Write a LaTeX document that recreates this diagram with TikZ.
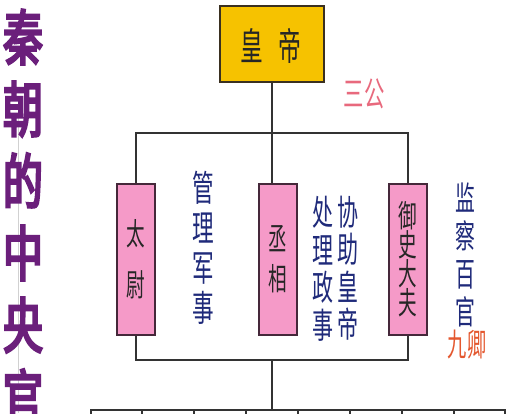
\documentclass[tikz,border=0pt]{standalone}
\usepackage{fontspec}
\newfontfamily\cjk[FakeStretch=0.6]{Noto Sans CJK SC}
\newfontfamily\cjkt[FakeStretch=0.66,FakeBold=4]{Noto Sans CJK SC}
\definecolor{linec}{HTML}{333333}
\definecolor{goldf}{HTML}{F6C200}
\definecolor{goldb}{HTML}{3A3020}
\definecolor{pinkf}{HTML}{F59AC8}
\definecolor{pinkb}{HTML}{45283A}
\definecolor{titlec}{HTML}{6B1F7B}
\definecolor{bluec}{HTML}{1F2A7A}
\definecolor{sanc}{HTML}{E8697D}
\definecolor{jiuc}{HTML}{E4572E}
\begin{document}
\begin{tikzpicture}[x=1pt,y=-1pt,
  conn/.style={draw=linec, line width=1.3pt},
  empbox/.style={draw=goldb, fill=goldf, line width=1.4pt, minimum width=104pt, minimum height=76pt, inner sep=0pt},
  pinkbox/.style={draw=pinkb, fill=pinkf, line width=1.3pt, minimum width=38pt, minimum height=151pt, inner sep=0pt, align=center, text=black!85},
  rowbox/.style={draw=linec, fill=white, line width=1.3pt, minimum height=40pt, inner sep=0pt},
  bluetxt/.style={text=bluec, align=center, inner sep=0pt},
]
\useasboundingbox (0,0) rectangle (512,413);
\clip (0,0) rectangle (512,413);
\fill[white] (0,0) rectangle (512,413);

% faint guide line behind title
\draw[black!18, line width=0.5pt] (18,100) -- (18,413);

% title
\node[text=titlec, align=center, inner sep=0pt, font=\cjkt\fontsize{60}{72}\selectfont] (title) at (23,217) {秦\\朝\\的\\中\\央\\官};

% emperor
\node[empbox] (emp) at (272,44) {};
\node[inner sep=0pt, font=\cjk\fontsize{38}{40}\selectfont, text=black!85] (huang) at (252,46) {皇};
\node[inner sep=0pt, font=\cjk\fontsize{38}{40}\selectfont, text=black!85] (di) at (290,46) {帝};

% labels
\node[inner sep=0pt, text=sanc, font=\cjk\fontsize{34}{36}\selectfont] (sangong) at (364,94) {三公};
\node[inner sep=0pt, text=jiuc, font=\cjk\fontsize{32}{36}\selectfont] (jiuqing) at (467,345) {九卿};

% three ministers
\node[pinkbox, font=\cjk\fontsize{31}{51}\selectfont] (tw) at (136,259.5) {太\\尉};
\node[pinkbox, font=\cjk\fontsize{31}{40}\selectfont] (cx) at (278,259.5) {丞\\相};
\node[pinkbox, font=\cjk\fontsize{31}{29}\selectfont] (ys) at (408,259.5) {御\\史\\大\\夫};

% duties
\node[bluetxt, font=\cjk\fontsize{36}{40}\selectfont] (d1) at (203,248) {管\\理\\军\\事};
\node[bluetxt, font=\cjk\fontsize{35}{37.5}\selectfont] (d2) at (323,269) {处\\理\\政\\事};
\node[bluetxt, font=\cjk\fontsize{35}{37.5}\selectfont] (d3) at (348,268) {协\\助\\皇\\帝};
\node[bluetxt, font=\cjk\fontsize{33}{38}\selectfont] (d4) at (465,255) {监\\察\\百\\官};

% bars
\coordinate (topbar) at (272,133);
\coordinate (botbar) at (272,360);

\draw[conn] (emp.south) -- (emp.south |- topbar);
\draw[conn] (tw.north) -- (tw.north |- topbar) -- (ys.north |- topbar) -- (ys.north);
\draw[conn] (cx.north -| emp.south) -- (emp.south |- topbar);
\draw[conn] (tw.south) -- (tw.south |- botbar) -- (ys.south |- botbar) -- (ys.south);

% bottom row (cut off)
\foreach \a/\b [count=\i] in {91/142,142/194,194/246,246/298,298/350,350/402,402/454,454/505}
  \node[rowbox, minimum width={\b-\a}] (r\i) at ({(\a+\b)/2},430) {};

\draw[conn] (botbar) -- (botbar |- r4.north);
\end{tikzpicture}
\end{document}
